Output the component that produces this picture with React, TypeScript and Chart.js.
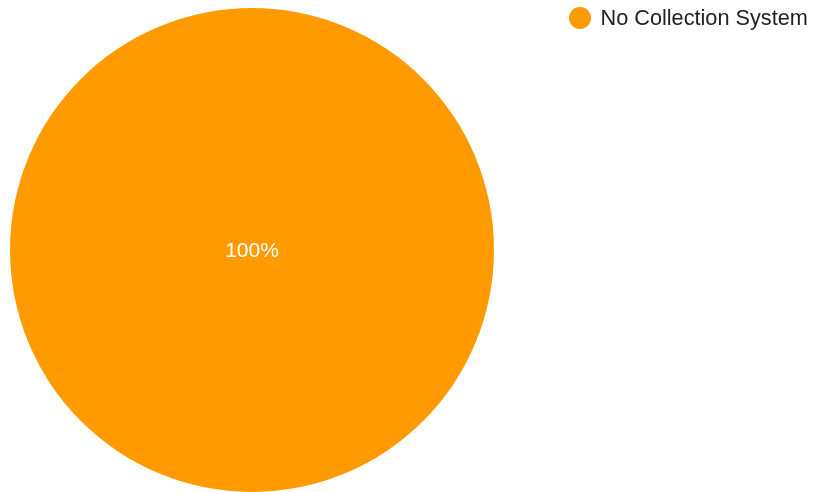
import React, { useEffect, useRef } from "react";
import { Chart, registerables } from "chart.js";

Chart.register(...registerables);

const categories: string[] = ["No Collection System"];
const values: number[] = [100];
const colors: string[] = ["#FF9B00"];

const FONT = "Arial, 'Liberation Sans', Helvetica, sans-serif";

const labelsPlugin = {
  id: "sliceLabels",
  afterDatasetsDraw(chart: any) {
    const ctx = chart.ctx;
    const meta = chart.getDatasetMeta(0);
    const total = values.reduce((a, b) => a + b, 0);
    ctx.save();
    ctx.fillStyle = "#ffffff";
    ctx.font = `21px ${FONT}`;
    ctx.textAlign = "center";
    ctx.textBaseline = "middle";
    meta.data.forEach((arc: any, i: number) => {
      const pct = Math.round((values[i] / total) * 100);
      let x: number, y: number;
      if (values[i] === total) {
        x = arc.x;
        y = arc.y;
      } else {
        const p = arc.tooltipPosition();
        x = p.x;
        y = p.y;
      }
      ctx.fillText(pct + "%", x, y + 1);
    });
    ctx.restore();
  },
};

const legendPlugin = {
  id: "customLegend",
  afterDraw(chart: any) {
    const ctx = chart.ctx;
    ctx.save();
    ctx.font = `21.7px ${FONT}`;
    ctx.textBaseline = "middle";
    ctx.textAlign = "left";
    categories.forEach((c, i) => {
      const cy = 18 + i * 30;
      ctx.fillStyle = colors[i];
      ctx.beginPath();
      ctx.arc(580, cy, 11, 0, Math.PI * 2);
      ctx.fill();
      ctx.fillStyle = "#222222";
      ctx.fillText(c, 600.5, cy + 1);
    });
    ctx.restore();
  },
};

export default function App() {
  const ref = useRef<HTMLCanvasElement>(null);
  useEffect(() => {
    if (!ref.current) return;
    const chart = new Chart(ref.current, {
      type: "pie",
      data: {
        labels: categories,
        datasets: [
          {
            data: values,
            backgroundColor: colors,
            borderWidth: 0,
          },
        ],
      },
      options: {
        animation: false,
        responsive: false,
        maintainAspectRatio: false,
        layout: { padding: { left: 10, top: 8, right: 319, bottom: 0 } },
        plugins: {
          legend: { display: false },
          tooltip: { enabled: false },
        },
      },
      plugins: [labelsPlugin, legendPlugin],
    });
    return () => chart.destroy();
  }, []);
  return (
    <div style={{ position: "absolute", left: 0, top: 0, width: 813, height: 492, background: "#fff" }}>
      <canvas ref={ref} width={813} height={492} style={{ display: "block" }} />
    </div>
  );
}
